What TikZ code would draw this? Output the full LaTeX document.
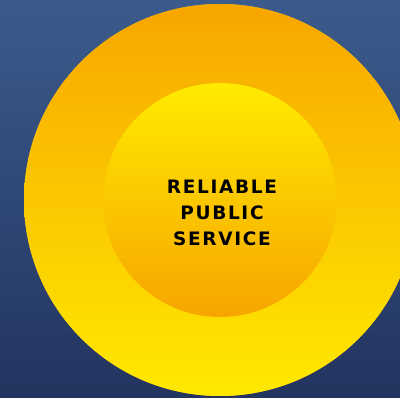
\documentclass[tikz,border=0pt]{standalone}
\usepackage{fontspec}
\newfontfamily\mottofont[LetterSpace=9]{DejaVu Sans}
\definecolor{skytop}{HTML}{3B5B8C}
\definecolor{skybottom}{HTML}{23345F}
\definecolor{ringtop}{HTML}{F7A600}
\definecolor{ringbottom}{HTML}{FFE900}
\definecolor{coretop}{HTML}{FFEB00}
\definecolor{corebottom}{HTML}{F7A500}
\tikzset{
	ring/.style={top color=ringtop, bottom color=ringbottom},
	core/.style={top color=coretop, bottom color=corebottom},
	motto/.style={align=center, font=\mottofont\bfseries\fontsize{18.5}{26}\selectfont}
}

\begin{document}
\begin{tikzpicture}[x=1pt, y=1pt]
	\useasboundingbox (0, 0) rectangle (400, 398);
	\clip (0, 0) rectangle (400, 398);
	\shade [top color=skytop, bottom color=skybottom] (0, 0) rectangle (400, 398);
	\coordinate (O) at (220, 198);
	\fill [ringtop!50!ringbottom] (O) circle (196pt);
	\shade [ring] (O) circle (196pt);
	\shade [core] (O) circle (117pt);
	\node [motto] (motto) at (222, 185.5) {RELIABLE\\PUBLIC\\SERVICE};
\end{tikzpicture}
\end{document}
